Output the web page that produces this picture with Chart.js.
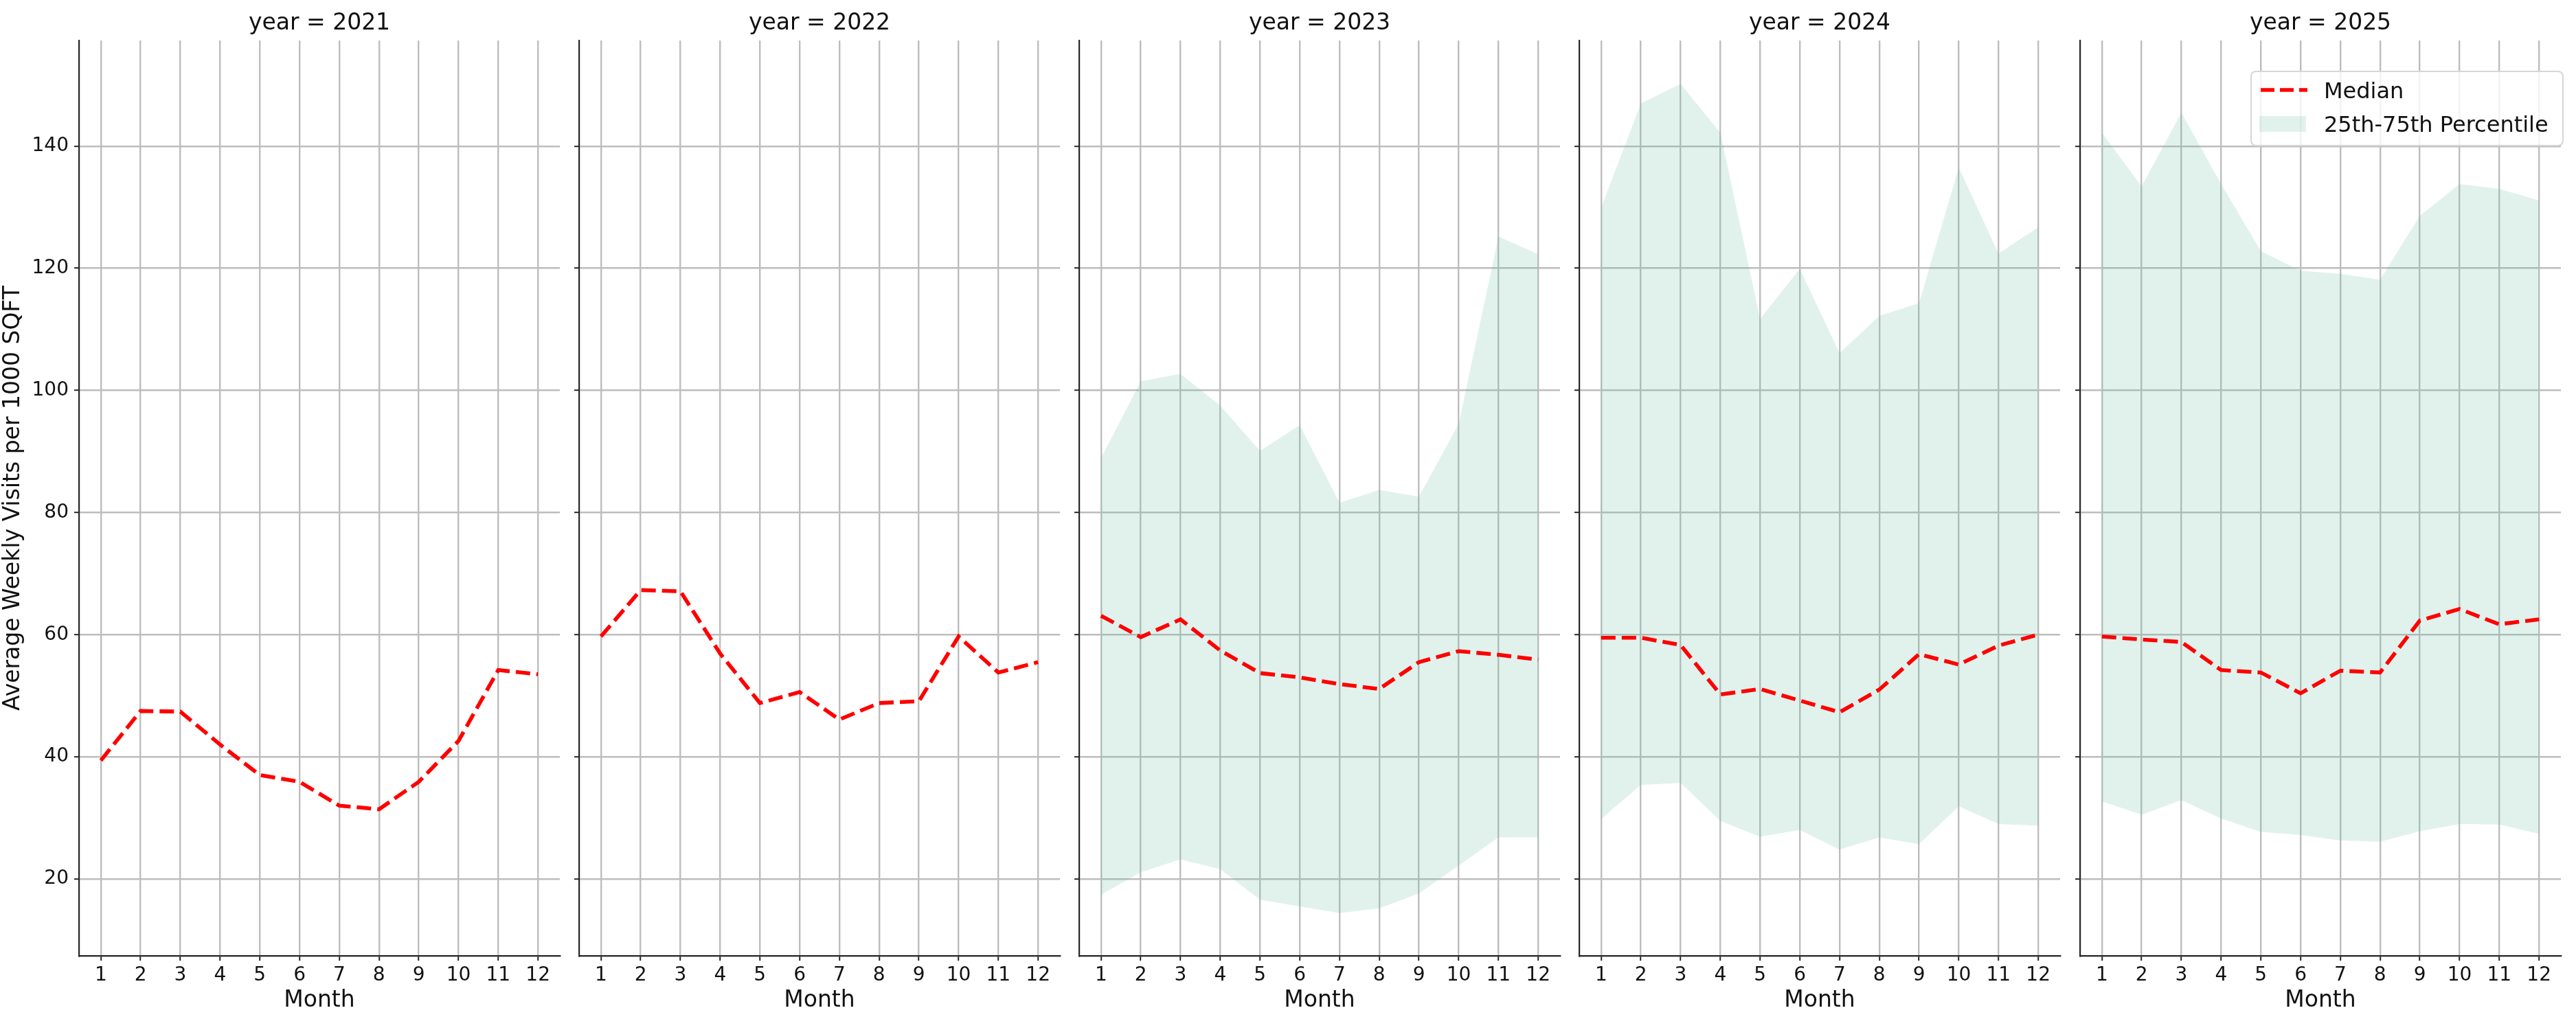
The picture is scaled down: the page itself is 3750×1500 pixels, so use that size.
<!DOCTYPE html>
<html>
<head>
<meta charset="utf-8">
<script src="https://cdn.jsdelivr.net/npm/chart.js@4.4.1/dist/chart.umd.min.js"></script>
<style>
  body { margin: 0; background: #fff; width: 3750px; height: 1500px; position: relative; overflow: hidden; font-family: "DejaVu Sans", sans-serif; }
  canvas { position: absolute; top: 0; }
  #legend { position: absolute; left: 3276px; top: 103px; width: 452px; height: 106px; border: 2px solid rgba(210,210,210,0.9); border-radius: 8px; background: rgba(255,255,255,0.8); z-index: 5; }
  #legend .txt { position: absolute; left: 105px; font-size: 32px; color: #111; line-height: 38px; white-space: nowrap; }
  #legend .patch { position: absolute; left: 11px; top: 64px; width: 68px; height: 23px; background: rgba(105,190,165,0.2); }
  #legend svg { position: absolute; left: 11px; top: 12px; }
</style>
</head>
<body>
<div id="legend">
  <svg width="70" height="28"><line x1="2" y1="14" x2="70" y2="14" stroke="#ff0000" stroke-width="5.6" stroke-dasharray="20 8"/></svg>
  <div class="txt" style="top:8px">Median</div>
  <div class="patch"></div>
  <div class="txt" style="top:57px">25th-75th Percentile</div>
</div>
<script>
// 数据
const years = [2021, 2022, 2023, 2024, 2025];
const months = [1, 2, 3, 4, 5, 6, 7, 8, 9, 10, 11, 12];
const yTickLabels = [20, 40, 60, 80, 100, 120, 140];

const median2021 = [39.4, 47.5, 47.4, 42.0, 37.0, 35.9, 32.0, 31.4, 35.9, 42.6, 54.2, 53.5];
const median2022 = [59.7, 67.3, 67.1, 56.9, 48.8, 50.6, 46.1, 48.8, 49.1, 59.7, 53.8, 55.5];
const median2023 = [63.1, 59.6, 62.5, 57.4, 53.7, 53.0, 51.9, 51.1, 55.5, 57.3, 56.7, 55.9];
const median2024 = [59.5, 59.5, 58.3, 50.2, 51.1, 49.2, 47.3, 51.0, 56.8, 55.1, 58.2, 60.0];
const median2025 = [59.7, 59.2, 58.8, 54.2, 53.8, 50.4, 54.1, 53.8, 62.3, 64.2, 61.7, 62.5];

const p75_2023 = [88.9, 101.5, 102.7, 97.5, 90.1, 94.3, 81.6, 83.7, 82.6, 94.5, 125.2, 122.3];
const p25_2023 = [17.4, 21.1, 23.2, 21.6, 16.6, 15.5, 14.4, 15.2, 17.6, 22.2, 26.8, 26.8];
const p75_2024 = [129.9, 147.0, 150.2, 142.2, 111.7, 119.9, 106.1, 112.2, 114.3, 136.5, 122.4, 126.7];
const p25_2024 = [29.8, 35.4, 35.7, 29.5, 26.9, 28.0, 24.8, 26.8, 25.7, 31.9, 29.0, 28.7];
const p75_2025 = [142.2, 133.4, 145.5, 133.8, 122.8, 119.6, 119.1, 118.1, 128.6, 133.8, 133.0, 131.1];
const p25_2025 = [32.7, 30.5, 32.9, 29.9, 27.7, 27.2, 26.3, 26.1, 27.8, 29.0, 28.9, 27.4];

const medians = [median2021, median2022, median2023, median2024, median2025];
const upper = [null, null, p75_2023, p75_2024, p75_2025];
const lower = [null, null, p25_2023, p25_2024, p25_2025];

Chart.defaults.font.family = "'DejaVu Sans', sans-serif";
Chart.defaults.color = '#111';

const AXIS_W = 115, PLOT_W = 700, RIGHT_PAD = 12, H = 1500, BOTTOM = 1392;
const panelLeft = [115, 843, 1571, 2299, 3028];
const gridColor = '#bdbdbd';
const spine = '#262626';
const bandColor = 'rgba(105,190,165,0.2)';

const pts = arr => months.map((m, k) => ({ x: m, y: arr[k] }));

years.forEach((yr, i) => {
  const c = document.createElement('canvas');
  c.width = AXIS_W + PLOT_W + RIGHT_PAD;
  c.height = H;
  c.style.left = (panelLeft[i] - AXIS_W) + 'px';
  document.body.appendChild(c);

  const datasets = [{
    label: 'Median',
    data: pts(medians[i]),
    borderColor: '#ff0000',
    borderWidth: 5.6,
    borderDash: [21, 9],
    pointRadius: 0,
    fill: false,
    tension: 0,
    order: 0
  }];
  if (upper[i]) {
    datasets.push({
      label: '75th',
      data: pts(upper[i]),
      borderColor: 'transparent',
      borderWidth: 0,
      pointRadius: 0,
      backgroundColor: bandColor,
      fill: '+1',
      order: 1
    }, {
      label: '25th',
      data: pts(lower[i]),
      borderColor: 'transparent',
      borderWidth: 0,
      pointRadius: 0,
      fill: false,
      order: 2
    });
  }

  new Chart(c, {
    type: 'line',
    data: { datasets: datasets },
    options: {
      responsive: false,
      animation: false,
      devicePixelRatio: 1,
      layout: { padding: { left: 0, right: RIGHT_PAD, top: 0, bottom: 0 } },
      plugins: {
        legend: { display: false },
        tooltip: { enabled: false },
        title: {
          display: true,
          fullSize: false,
          text: 'year = ' + yr,
          font: { size: 33, weight: 'normal' },
          color: '#111',
          padding: { top: 15, bottom: 4.4 }
        }
      },
      scales: {
        x: {
          type: 'linear',
          min: 0.45,
          max: 12.55,
          afterBuildTicks: s => { s.ticks = months.map(m => ({ value: m })); },
          afterFit: s => { s.height = H - BOTTOM; },
          ticks: { autoSkip: false, maxRotation: 0, font: { size: 28 }, color: '#111', padding: 5 },
          grid: { color: gridColor, lineWidth: 2.4, tickLength: 7, tickColor: spine, tickWidth: 2 },
          border: { display: true, color: spine, width: 2.2 },
          title: { display: true, text: 'Month', font: { size: 33 }, color: '#111', padding: { top: 0, bottom: 23 } }
        },
        y: {
          min: 7.4,
          max: 157.3,
          afterBuildTicks: s => { s.ticks = yTickLabels.map(v => ({ value: v })); },
          afterFit: s => { s.width = AXIS_W; },
          ticks: { display: i === 0, font: { size: 28 }, color: '#111', padding: 8 },
          grid: { color: gridColor, lineWidth: 2.4, tickLength: 7, tickColor: spine, tickWidth: 2 },
          border: { display: true, color: spine, width: 2.2 },
          title: { display: i === 0, text: 'Average Weekly Visits per 1000 SQFT', font: { size: 33 }, color: '#111', padding: 0 }
        }
      }
    }
  });
});
</script>
</body>
</html>
